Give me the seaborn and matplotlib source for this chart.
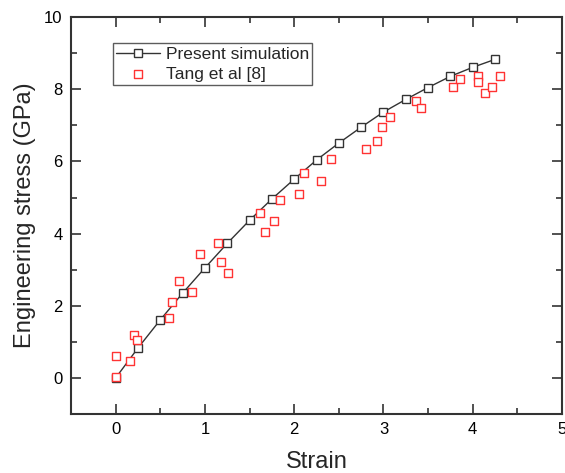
import numpy as np
import pandas as pd
import matplotlib
matplotlib.use('Agg')
import matplotlib.pyplot as plt
from matplotlib.ticker import MultipleLocator
import seaborn as sns

# Present simulation
sim_strain = [0, 0.25, 0.5, 0.75, 1.0, 1.25, 1.5, 1.75, 2.0, 2.25,
              2.5, 2.75, 3.0, 3.25, 3.5, 3.75, 4.0, 4.25]
sim_stress = [0, 0.83, 1.61, 2.35, 3.05, 3.73, 4.37, 4.96, 5.51, 6.04,
              6.51, 6.95, 7.37, 7.72, 8.05, 8.36, 8.61, 8.83]

# Tang et al [8]
tang_strain = [0, 0, 0.16, 0.21, 0.24, 0.6, 0.63, 0.71, 0.85, 0.95,
               1.15, 1.18, 1.26, 1.62, 1.67, 1.77, 1.84, 2.05, 2.11, 2.3,
               2.41, 2.8, 2.93, 2.98, 3.07, 3.37, 3.42, 3.78, 3.86, 4.06,
               4.06, 4.14, 4.22, 4.3]
tang_stress = [0.02, 0.62, 0.46, 1.2, 1.05, 1.65, 2.1, 2.7, 2.39, 3.43,
               3.74, 3.21, 2.92, 4.56, 4.04, 4.34, 4.94, 5.09, 5.68, 5.46,
               6.06, 6.35, 6.57, 6.95, 7.24, 7.69, 7.47, 8.07, 8.28, 8.37,
               8.21, 7.91, 8.07, 8.37]

sim = pd.DataFrame({'strain': sim_strain, 'stress': sim_stress})
tang = pd.DataFrame({'strain': tang_strain, 'stress': tang_stress})

sns.set_style('ticks')
plt.rcParams['font.family'] = ['Liberation Sans', 'DejaVu Sans']

fig = plt.figure(figsize=(5.65, 4.73), dpi=100)
ax = fig.add_axes([0.1257, 0.1247, 0.869, 0.839])

sns.lineplot(data=sim, x='strain', y='stress', ax=ax,
             color='#333333', linewidth=1.0,
             marker='s', markersize=6, markerfacecolor='white',
             markeredgecolor='#333333', markeredgewidth=1.0,
             label='Present simulation')
sns.scatterplot(data=tang, x='strain', y='stress', ax=ax,
                marker='s', s=36, facecolor='white',
                edgecolor='#ff3333', linewidth=1.0,
                label='Tang et al [8]', zorder=3)

ax.set_xlim(-0.5, 5)
ax.set_ylim(-1, 10)
ax.xaxis.set_major_locator(MultipleLocator(1))
ax.xaxis.set_minor_locator(MultipleLocator(0.5))
ax.yaxis.set_major_locator(MultipleLocator(2))
ax.yaxis.set_minor_locator(MultipleLocator(1))
ax.tick_params(which='both', direction='in', top=True, right=True,
               colors='#333333', labelcolor='black', labelsize=12)
ax.tick_params(which='major', length=7, width=1.2, pad=6)
ax.tick_params(which='minor', length=4, width=1.2)
for sp in ax.spines.values():
    sp.set_color('#333333')
    sp.set_linewidth(1.5)

ax.set_xlabel('Strain', fontsize=17, labelpad=10)
ax.set_ylabel('Engineering stress (GPa)', fontsize=17, labelpad=6)

leg = ax.legend(loc='upper left', bbox_to_anchor=(0.085, 0.935),
                borderaxespad=0, fontsize=12.5, frameon=True, fancybox=False,
                handlelength=2.5, borderpad=0.2, labelspacing=0.3,
                handletextpad=0.35)
leg.get_frame().set_edgecolor('#333333')
leg.get_frame().set_linewidth(1.0)

fig.savefig('out.png', dpi=100)
